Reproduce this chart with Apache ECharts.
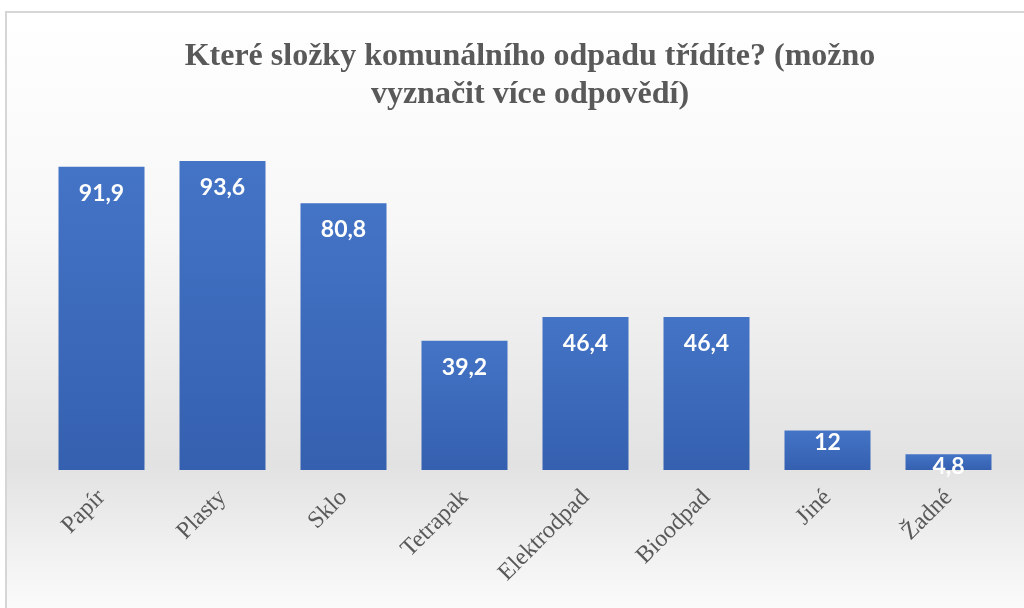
<!DOCTYPE html>
<html>
<head>
<meta charset="utf-8">
<script src="https://cdn.jsdelivr.net/npm/echarts@6/dist/echarts.min.js"></script>
<style>
  html, body { margin: 0; padding: 0; background: #fff; }
  #main { width: 1024px; height: 608px; }
</style>
</head>
<body>
<div id="main"></div>
<script>
// data
var categories = ['Papír', 'Plasty', 'Sklo', 'Tetrapak', 'Elektrodpad', 'Bioodpad', 'Jiné', 'Žadné'];
var values = [91.9, 93.6, 80.8, 39.2, 46.4, 46.4, 12, 4.8];
var titleText = 'Které složky komunálního odpadu třídíte? (možno\nvyznačit více odpovědí)';

var myChart = echarts.init(document.getElementById('main'));

var barData = values.map(function (v) {
  // short bars get the label pushed closer to the top edge
  return {
    value: v,
    label: { distance: v < 20 ? 1 : 15 }
  };
});

var option = {
  animation: false,
  graphic: [
    {
      type: 'rect',
      z: -10,
      shape: { x: 6, y: 12, width: 1030, height: 610 },
      style: {
        stroke: '#d6d6d6',
        lineWidth: 2,
        fill: new echarts.graphic.LinearGradient(0, 0, 0, 1, [
          { offset: 0, color: '#ffffff' },
          { offset: 0.35, color: '#f7f7f7' },
          { offset: 0.74, color: '#e2e2e2' },
          { offset: 1, color: '#fdfdfd' }
        ])
      }
    }
  ],
  title: {
    text: titleText,
    left: 525,
    top: 33,
    textAlign: 'center',
    textStyle: {
      fontFamily: 'Liberation Serif',
      fontWeight: 'bold',
      fontSize: 32,
      lineHeight: 38,
      color: '#595959'
    }
  },
  grid: {
    left: 41,
    right: 15,
    top: 140,
    bottom: 138,
    containLabel: false
  },
  xAxis: {
    type: 'category',
    data: categories,
    axisLine: { show: false },
    axisTick: { show: false },
    axisLabel: {
      rotate: 45,
      margin: 24,
      interval: 0,
      fontFamily: 'Liberation Serif',
      fontSize: 24,
      color: '#595959'
    }
  },
  yAxis: {
    type: 'value',
    min: 0,
    max: 100,
    show: false,
    splitLine: { show: false }
  },
  series: [
    {
      type: 'bar',
      data: barData,
      barWidth: 86,
      itemStyle: {
        color: new echarts.graphic.LinearGradient(0, 0, 0, 1, [
          { offset: 0, color: '#4474c6' },
          { offset: 1, color: '#3560b0' }
        ])
      },
      label: {
        show: true,
        position: 'insideTop',
        fontFamily: 'Lato',
        fontWeight: 'bold',
        fontSize: 23,
        color: '#ffffff',
        formatter: function (p) {
          return String(p.value).replace('.', ',');
        }
      }
    }
  ]
};

myChart.setOption(option);
</script>
</body>
</html>
